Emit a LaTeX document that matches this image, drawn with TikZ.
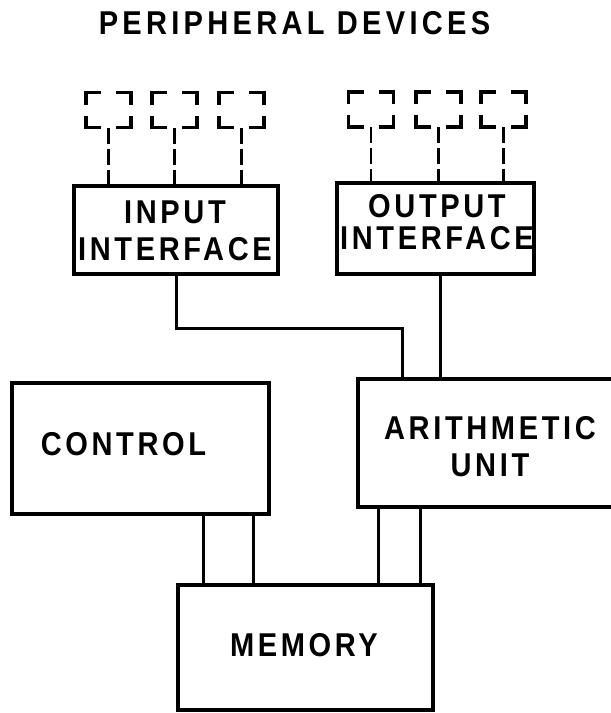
\documentclass[tikz,border=0pt]{standalone}
\usepackage{fontspec}
\newfontfamily\boxfont{Liberation Sans}[LetterSpace=11, FakeStretch=0.88]
\newfontfamily\headfont{Liberation Sans}[LetterSpace=13, FakeStretch=0.88]
\begin{document}
\begin{tikzpicture}[x=1pt,y=-1pt,
  unitbox/.style={draw, rectangle, line width=3.5pt, inner sep=0pt, outer sep=0pt},
  lbl/.style={font=\boxfont\bfseries\fontsize{33pt}{37pt}\selectfont, align=center, inner sep=0pt},
  devbox/.style={rectangle, minimum width=45pt, minimum height=35pt, inner sep=0pt, outer sep=0pt},
  devcorner/.style={line width=3.2pt},
  wire/.style={line width=3pt},
  dline/.style={line width=2.6pt, dash pattern=on 16pt off 5pt}]

\useasboundingbox (0,0) rectangle (611,713);
\clip (0,0) rectangle (611,713);

% heading
\node[font=\headfont\bfseries\fontsize{33pt}{36pt}\selectfont, inner sep=0pt] (head) at (294.5,23.5) {PERIPHERAL DEVICES};

% peripheral devices
\node[devbox] (d1) at (108.5,110) {};
\node[devbox] (d2) at (174.5,110) {};
\node[devbox] (d3) at (241.5,110) {};
\node[devbox] (d4) at (371,109.5) {};
\node[devbox] (d5) at (438.5,109.5) {};
\node[devbox] (d6) at (503.5,109.5) {};
\foreach \d in {d1,d2,d3,d4,d5,d6}{
  \draw[devcorner] ([xshift=15pt]\d.north west) -| ([yshift=-12pt]\d.north west);
  \draw[devcorner] ([xshift=-15pt]\d.north east) -| ([yshift=-12pt]\d.north east);
  \draw[devcorner] ([xshift=15pt]\d.south west) -| ([yshift=12pt]\d.south west);
  \draw[devcorner] ([xshift=-15pt]\d.south east) -| ([yshift=12pt]\d.south east);
}

% interfaces
\node[unitbox, minimum width=204pt, minimum height=88pt] (inif) at (176,230) {};
\node[lbl] (inlbl) at (175,231) {INPUT\\INTERFACE};
\node[unitbox, minimum width=197pt, minimum height=91pt] (outif) at (435.5,228.5) {};
\node[lbl, font=\boxfont\bfseries\fontsize{33pt}{32pt}\selectfont] (outlbl) at (437,222.5) {OUTPUT\\INTERFACE};

% processor units
\node[unitbox, minimum width=257pt, minimum height=131pt] (ctrl) at (140.5,448.5) {};
\node[lbl] (ctrllbl) at (123.5,444.5) {CONTROL};
\node[unitbox, minimum width=258pt, minimum height=128pt] (alu) at (487,443) {};
\node[lbl] (alulbl) at (490,447) {ARITHMETIC\\UNIT};
\node[unitbox, minimum width=255pt, minimum height=125pt] (mem) at (305.5,647.5) {};
\node[lbl] (memlbl) at (304,645) {MEMORY};

% device links
\foreach \d in {d1,d2,d3}{
  \draw[dline] (\d.south) -- (\d.south |- inif.north);
}
\foreach \d in {d4,d5,d6}{
  \draw[dline] (\d.south) -- (\d.south |- outif.north);
}

% data paths
\coordinate (aluin)  at ([xshift=44pt]alu.north west);
\coordinate (aluout) at ([xshift=82pt]alu.north west);
\coordinate (bend)   at (0,328);
\draw[wire] (inif.south) -- (inif.south |- bend) -| (aluin);
\draw[wire] (outif.south -| aluout) -- (aluout);

\coordinate (mc1) at ([xshift=25pt]mem.north west);
\coordinate (mc2) at ([xshift=75pt]mem.north west);
\coordinate (ma1) at ([xshift=-55pt]mem.north east);
\coordinate (ma2) at ([xshift=-13pt]mem.north east);
\draw[wire] (mc1) -- (mc1 |- ctrl.south);
\draw[wire] (mc2) -- (mc2 |- ctrl.south);
\draw[wire] (ma1) -- (ma1 |- alu.south);
\draw[wire] (ma2) -- (ma2 |- alu.south);
\end{tikzpicture}
\end{document}
